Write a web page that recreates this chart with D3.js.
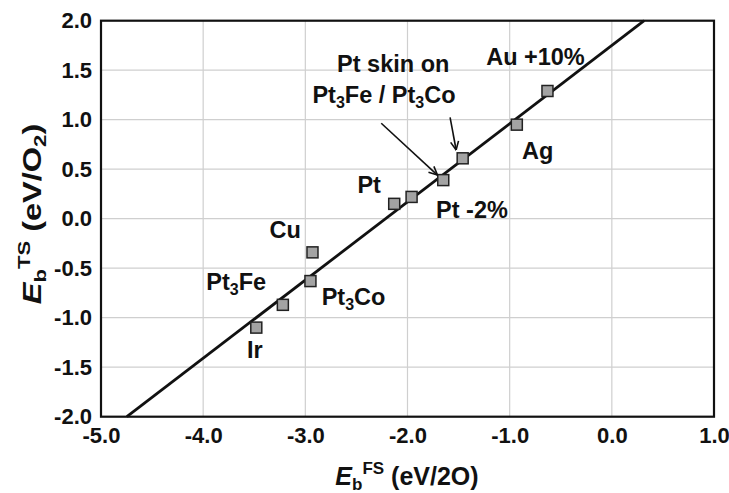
<!DOCTYPE html>
<html><head><meta charset="utf-8">
<script src="https://cdn.jsdelivr.net/npm/d3@7"></script>
<style>
body{margin:0;background:#fff}
text{font-family:"Liberation Sans",Arial,Helvetica,sans-serif;font-weight:bold;fill:#111}
</style>
</head><body>
<svg id="c" width="729" height="493"></svg>
<script>
// ---- data ----
const xTicks = [-5, -4, -3, -2, -1, 0, 1];
const yTicks = [-2, -1.5, -1, -0.5, 0, 0.5, 1, 1.5, 2];
const pointNames = ["Ir", "Pt3Fe", "Pt3Co", "Cu", "Pt", "Pt", "Pt -2% / skin Pt3Fe", "skin Pt3Co", "Ag", "Au +10%"];
const pointX = [-3.48, -3.22, -2.95, -2.93, -2.13, -1.96, -1.65, -1.46, -0.93, -0.63];
const pointY = [-1.10, -0.87, -0.63, -0.34, 0.15, 0.22, 0.39, 0.61, 0.95, 1.29];
const fitSlope = 0.79;
const fitIntercept = 1.75;
// annotation texts (segments: [text, isSubscript])
const labelSegs = [
  [["Au +10%", 0]],
  [["Ag", 0]],
  [["Pt -2%", 0]],
  [["Pt", 0]],
  [["Cu", 0]],
  [["Pt", 0], ["3", 1], ["Fe", 0]],
  [["Pt", 0], ["3", 1], ["Co", 0]],
  [["Ir", 0]],
  [["Pt skin on", 0]],
  [["Pt", 0], ["3", 1], ["Fe / Pt", 0], ["3", 1], ["Co", 0]]
];
// annotation anchors in data units
const labelX = [-1.23, -0.88, -1.72, -2.49, -3.35, -3.97, -2.84, -3.57, -2.14, -2.23];
const labelY = [1.553, 0.60, 0.005, 0.26, -0.195, -0.72, -0.872, -1.407, 1.485, 1.165];
const labelAnchor = ["start","start","start","start","start","start","start","start","middle","middle"];
const arrowFrom = [[-2.257, 0.964], [-1.583, 1.024]];
const arrowTo   = [[-1.707, 0.441], [-1.524, 0.694]];

// ---- layout ----
const svg = d3.select("#c");
const x = d3.scaleLinear().domain([-5, 1]).range([101, 714]);
const y = d3.scaleLinear().domain([-2, 2]).range([416.7, 20.7]);
const FS = 22, LFS = 23.5, SUB = 16;

svg.append("defs").append("marker")
  .attr("id", "ah").attr("viewBox", "0 0 10 10").attr("refX", 9.5).attr("refY", 5)
  .attr("markerWidth", 10).attr("markerHeight", 10).attr("markerUnits", "userSpaceOnUse")
  .attr("orient", "auto")
  .append("path").attr("d", "M1,1 L9.5,5 L1,9").attr("fill", "none").attr("stroke", "#111").attr("stroke-width", 1.6);

// grid
const grid = svg.append("g");
grid.selectAll("line.v").data(xTicks.slice(1, -1)).enter().append("line")
  .attr("x1", d => x(d)).attr("x2", d => x(d)).attr("y1", y(2)).attr("y2", y(-2))
  .attr("stroke", "#cfcfcf").attr("stroke-width", 1.2);
grid.selectAll("line.h").data(yTicks.slice(1, -1)).enter().append("line")
  .attr("y1", d => y(d)).attr("y2", d => y(d)).attr("x1", x(-5)).attr("x2", x(1))
  .attr("stroke", "#cfcfcf").attr("stroke-width", 1.2);

// axes
const fmt = d => d.toFixed(1);
const gx = svg.append("g").attr("transform", `translate(0,${y(-2)})`)
  .call(d3.axisBottom(x).tickValues(xTicks).tickFormat(fmt).tickSize(0).tickPadding(11));
const gy = svg.append("g").attr("transform", `translate(${x(-5)},0)`)
  .call(d3.axisLeft(y).tickValues(yTicks).tickFormat(fmt).tickSize(0).tickPadding(9));
[gx, gy].forEach(g => {
  g.select(".domain").remove();
  g.selectAll("text").attr("font-size", FS).attr("font-family", null).attr("fill", "#111");
});

// fit line clipped to the frame
const lineData = [-2, 2].map(v => [(v - fitIntercept) / fitSlope, v]);
svg.append("path").datum(lineData)
  .attr("d", d3.line().x(d => x(d[0])).y(d => y(d[1])))
  .attr("stroke", "#111").attr("stroke-width", 2.8).attr("fill", "none");

// frame
svg.append("rect").attr("x", x(-5)).attr("y", y(2))
  .attr("width", x(1) - x(-5)).attr("height", y(-2) - y(2))
  .attr("fill", "none").attr("stroke", "#111").attr("stroke-width", 2.2);

// points
const sq = 11;
svg.selectAll("rect.pt").data(pointX.map((v, i) => [v, pointY[i]])).enter().append("rect")
  .attr("x", d => x(d[0]) - sq / 2).attr("y", d => y(d[1]) - sq / 2)
  .attr("width", sq).attr("height", sq)
  .attr("fill", "#a3a3a3").attr("stroke", "#222").attr("stroke-width", 1.5);

// labels
labelSegs.forEach((segs, i) => {
  const t = svg.append("text").attr("x", x(labelX[i])).attr("y", y(labelY[i]))
    .attr("font-size", LFS).attr("text-anchor", labelAnchor[i]);
  let sub = false;
  segs.forEach(([s, isSub]) => {
    const ts = t.append("tspan").text(s);
    if (isSub && !sub) { ts.attr("dy", 5).attr("font-size", SUB); sub = true; }
    else if (!isSub && sub) { ts.attr("dy", -5); sub = false; }
  });
});

// arrows
arrowFrom.forEach((f, i) => {
  svg.append("line").attr("x1", x(f[0])).attr("y1", y(f[1]))
    .attr("x2", x(arrowTo[i][0])).attr("y2", y(arrowTo[i][1]))
    .attr("stroke", "#111").attr("stroke-width", 1.6).attr("marker-end", "url(#ah)");
});

// axis titles
const xt = svg.append("text").attr("x", 407).attr("y", 485).attr("text-anchor", "middle").attr("font-size", 25);
xt.append("tspan").text("E").attr("font-style", "italic");
xt.append("tspan").text("b").attr("font-size", 17).attr("dy", 5);
xt.append("tspan").text("FS").attr("font-size", 17).attr("dy", -16);
xt.append("tspan").text(" (eV/2O)").attr("dy", 11);

const yt = svg.append("text").attr("transform", "translate(41,214) rotate(-90) scale(1.3,1)")
  .attr("text-anchor", "middle").attr("font-size", 25);
yt.append("tspan").text("E").attr("font-style", "italic");
yt.append("tspan").text("b").attr("font-size", 17).attr("dy", 5);
yt.append("tspan").text("TS").attr("font-size", 17).attr("dy", -16);
yt.append("tspan").text(" (eV/O").attr("dy", 11);
yt.append("tspan").text("2").attr("font-size", 17).attr("dy", 5);
yt.append("tspan").text(")").attr("dy", -5);
</script>
</body></html>
